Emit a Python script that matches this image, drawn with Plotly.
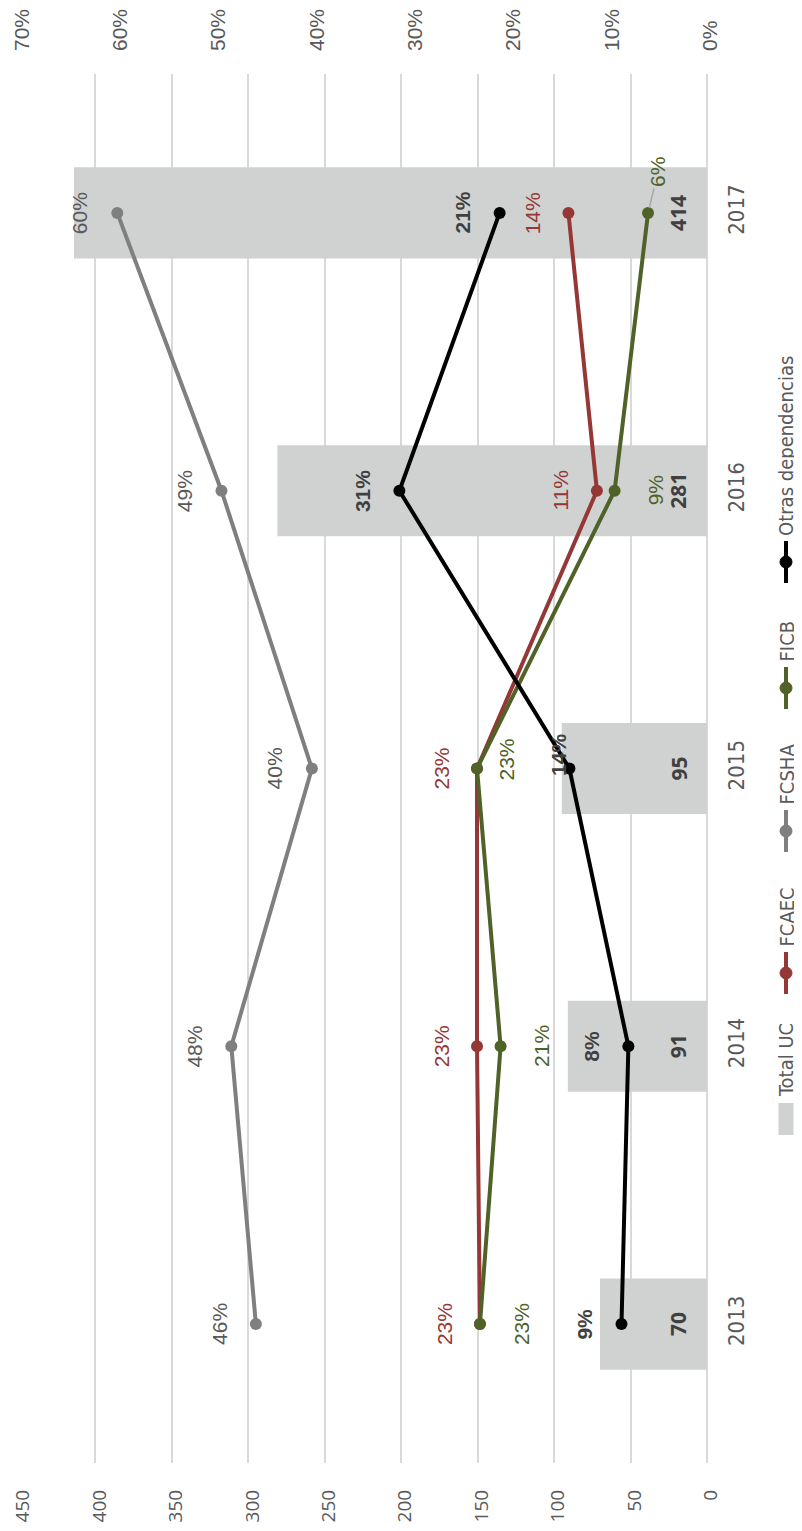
import plotly.graph_objects as go

# ---------------- data ----------------
years = ["2013", "2014", "2015", "2016", "2017"]
total_uc = [70, 91, 95, 281, 414]
fcaec = [0.231, 0.234, 0.234, 0.112, 0.141]
fcsha = [0.459, 0.484, 0.402, 0.494, 0.600]
ficb = [0.231, 0.210, 0.234, 0.094, 0.060]
otras = [0.087, 0.080, 0.140, 0.313, 0.211]
count_ticks = list(range(0, 451, 50))
pct_ticks = [i / 10 for i in range(8)]

# ---------------- layout geometry ----------------
OFF = 8                      # default body margin of the page
W, H = 802 - OFF, 1531 - 2 * OFF
M = dict(l=19 - OFF, r=802 - 707, t=74 - OFF, b=1531 - 1463 - OFF, pad=0)
PW = W - M["l"] - M["r"]
PH = H - M["t"] - M["b"]


def px(xp):
    """page pixel x -> paper x"""
    return (xp - OFF - M["l"]) / PW


def py(yp):
    """page pixel y -> paper y"""
    return (H - M["b"] - (yp - OFF)) / PH


F_PCT = "Liberation Sans, Arial, sans-serif"
F_CNT = "Open Sans, sans-serif"
F_NARROW = "Liberation Sans Narrow, Arial Narrow, DejaVu Sans Condensed, sans-serif"
TICK_C = "#595959"
DARK = "#404040"
BAR_C = "#D0D2D1"

series = [
    # name, values, line colour, label colour, bold, default xshift
    ("FCAEC", fcaec, "#953735", "#953735", False, -36),
    ("FCSHA", fcsha, "#7F7F7F", "#595959", False, -37),
    ("FICB", ficb, "#4F6228", "#4F6228", False, 41),
    ("Otras dependencias", otras, "#000000", DARK, True, -37),
]
# individual label nudges (pixel) where the reference moved labels
nudges = {("FICB", "2015"): (29, 9), ("Otras dependencias", "2015"): (-11, 14)}

fig = go.Figure()
fig.add_trace(go.Bar(
    y=years, x=total_uc, orientation="h", name="Total UC",
    marker=dict(color=BAR_C, line=dict(width=0)),
    xaxis="x", yaxis="y", showlegend=False, hoverinfo="x+y",
))
for name, vals, col, lcol, bold, sh in series:
    fig.add_trace(go.Scatter(
        y=years, x=vals, name=name, mode="lines+markers",
        line=dict(color=col, width=4), marker=dict(color=col, size=12),
        xaxis="x2", yaxis="y", showlegend=False,
    ))

ann = []
# line labels (category axis annotations use the category index)
for name, vals, col, lcol, bold, sh in series:
    for i, (yr, v) in enumerate(zip(years, vals)):
        txt = f"{v:.0%}"
        if bold:
            txt = f"<b>{txt}</b>"
        font = dict(family=F_PCT, size=21, color=lcol)
        if name == "FICB" and yr == "2017":
            ann.append(dict(x=v, y=i, xref="x2", yref="y", text=txt, textangle=-90,
                            showarrow=True, arrowhead=0, arrowwidth=1.5,
                            arrowcolor="#A6A6A6", ax=10, ay=-41, standoff=5,
                            font=font))
            continue
        dx, dy = nudges.get((name, yr), (sh, 0))
        ann.append(dict(x=v, y=i, xref="x2", yref="y", text=txt, textangle=-90,
                        showarrow=False, xshift=dx, yshift=dy,
                        xanchor="center", yanchor="middle", font=font))
# bar labels (inside base)
for i, v in enumerate(total_uc):
    ann.append(dict(x=0, y=i, xref="x", yref="y", text=f"<b>{v}</b>", textangle=-90,
                    showarrow=False, xshift=-29, xanchor="center", yanchor="middle",
                    font=dict(family=F_CNT, size=21, color=DARK)))

# manual (rotated) legend, positions in page pixels
shapes = []
LX = 786
legend_items = [
    ("Total UC", None, 1119, 1099),
    ("FCAEC", "#953735", 973, 949),
    ("FCSHA", "#7F7F7F", 831, 807),
    ("FICB", "#4F6228", 688, 664),
    ("Otras dependencias", "#000000", 562, 538),
]
for label, col, ymid, ytxt in legend_items:
    if col is None:
        shapes.append(dict(type="rect", xref="paper", yref="paper",
                           x0=px(LX - 7.5), x1=px(LX + 7.5), y0=py(ymid + 16), y1=py(ymid - 16),
                           fillcolor=BAR_C, line=dict(width=0)))
    else:
        shapes.append(dict(type="line", xref="paper", yref="paper",
                           x0=px(LX), x1=px(LX), y0=py(ymid + 21), y1=py(ymid - 21),
                           line=dict(color=col, width=4)))
        shapes.append(dict(type="circle", xref="paper", yref="paper",
                           x0=px(LX - 6), x1=px(LX + 6), y0=py(ymid + 6), y1=py(ymid - 6),
                           fillcolor=col, line=dict(color=col, width=1)))
    ann.append(dict(x=px(LX), y=py(ytxt), xref="paper", yref="paper", text=label,
                    textangle=-90, showarrow=False, xanchor="center", yanchor="bottom",
                    font=dict(family=F_NARROW, size=20, color=TICK_C)))

fig.update_layout(
    width=W, height=H, margin=M,
    paper_bgcolor="white", plot_bgcolor="white",
    bargap=0.672, showlegend=False,
    annotations=ann, shapes=shapes,
    xaxis=dict(
        range=[450, 0], tickmode="array", tickvals=count_ticks, automargin=False,
        showgrid=True, gridcolor="#D9D9D9", gridwidth=2,
        zeroline=True, zerolinecolor="#D9D9D9", zerolinewidth=2,
        showline=False, ticks="", tickangle=-90, ticklabelstandoff=22,
        ticklabelshift=-4, ticklabeloverflow="allow",
        tickfont=dict(family=F_CNT, size=19, color=TICK_C), side="bottom",
    ),
    xaxis2=dict(
        range=[0.7, 0], tickmode="array", tickvals=pct_ticks, tickformat=".0%",
        overlaying="x", anchor="y", side="top", showgrid=False, zeroline=False,
        automargin=False, ticklabeloverflow="allow", ticklabelshift=-3,
        showline=False, ticks="", tickangle=-90, ticklabelstandoff=22,
        tickfont=dict(family=F_PCT, size=21, color=TICK_C),
    ),
    yaxis=dict(
        type="category", categoryorder="array", categoryarray=years,
        range=[-0.5, 4.5], automargin=False,
        side="right", showgrid=False, zeroline=False, showline=False, ticks="",
        tickangle=-90, ticklabelstandoff=14,
        tickfont=dict(family=F_NARROW, size=22, color=TICK_C),
    ),
)

fig.write_html("out.html")
